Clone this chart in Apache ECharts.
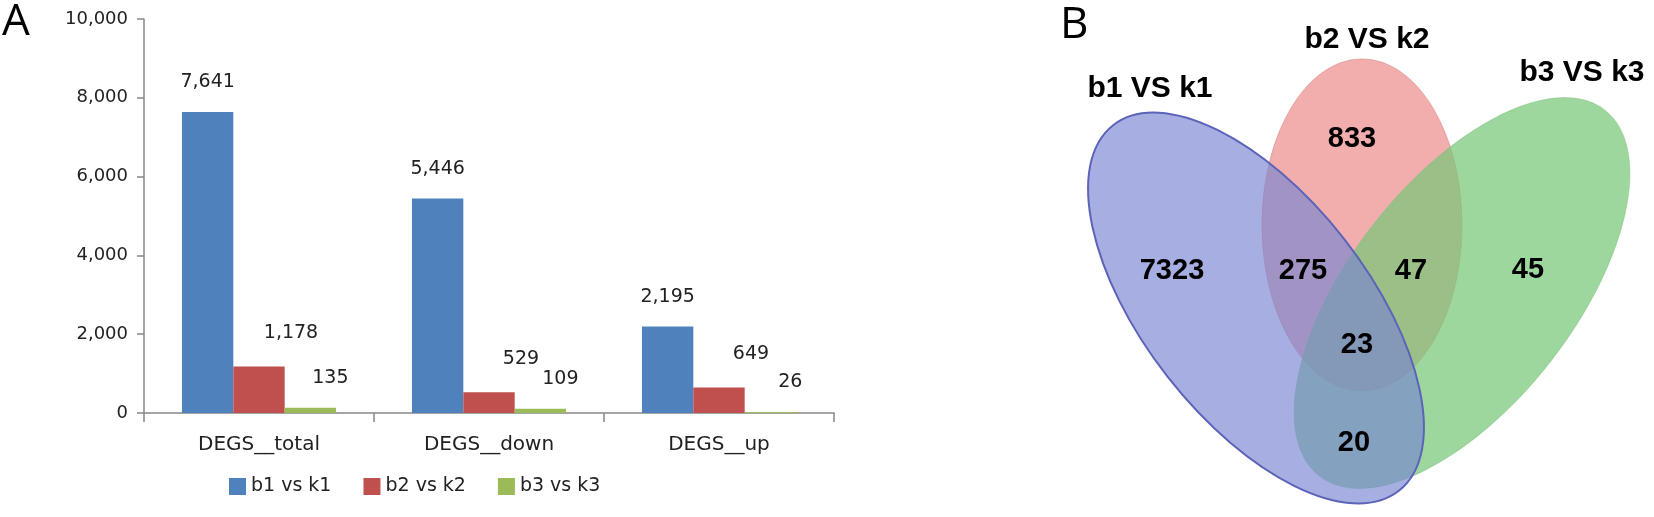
<!DOCTYPE html>
<html>
<head>
<meta charset="utf-8">
<script src="https://cdn.jsdelivr.net/npm/echarts@6/dist/echarts.min.js"></script>
<style>
  html, body { margin: 0; padding: 0; background: #fff; }
  #chart { width: 1654px; height: 517px; }
</style>
</head>
<body>
<div id="chart"></div>
<script>
// panel A: DEG counts
const categories = ['DEGS__total', 'DEGS__down', 'DEGS__up'];
const seriesNames = ['b1 vs k1', 'b2 vs k2', 'b3 vs k3'];
const b1k1 = [7641, 5446, 2195];
const b2k2 = [1178, 529, 649];
const b3k3 = [135, 109, 26];
const yTicks = [0, 2000, 4000, 6000, 8000, 10000];

// panel B: venn
const vennSets = ['b1 VS k1', 'b2 VS k2', 'b3 VS k3'];
const vennRegions = ['b1', 'b2', 'b3', 'b1&b2', 'b2&b3', 'b1&b2&b3', 'b1&b3'];
const vennCounts = [7323, 833, 45, 275, 47, 23, 20];

// venn layout (units of the hidden venn axes)
const setShapes = { // cx, cy, rx, ry, rotation deg
  'b2 VS k2': [322, 225, 100, 166, 0],
  'b3 VS k3': [422, 293, 232, 112, 52],
  'b1 VS k1': [216, 308, 232, 112, -52]
};
const setNamePos = [[110, 89], [327, 40], [542, 73]];
const regionPos = [[132, 271], [312, 139], [488, 270], [263, 271], [371, 271], [317, 345], [314, 443]];
const drawOrder = ['b2 VS k2', 'b3 VS k3', 'b1 VS k1'];
const setStyles = {
  'b2 VS k2': { fill: 'rgba(232,120,118,0.6)', stroke: 'rgba(220,120,120,0.5)', lineWidth: 1 },
  'b3 VS k3': { fill: 'rgba(120,200,120,0.72)', stroke: 'rgba(120,190,120,0.4)', lineWidth: 1 },
  'b1 VS k1': { fill: 'rgba(120,132,210,0.65)', stroke: '#5c63b8', lineWidth: 2 }
};

const barColors = ['#4F81BD', '#C0504D', '#9BBB59'];
const labelOffsets = [[0, -15], [32, -19], [20, -15]];
const textFont = 'DejaVu Sans';
const fmt = v => Number(v).toLocaleString('en-US');

const chart = echarts.init(document.getElementById('chart'));

const barSeries = [b1k1, b2k2, b3k3].map((vals, i) => ({
  name: seriesNames[i],
  type: 'bar',
  xAxisIndex: 0,
  yAxisIndex: 0,
  data: vals,
  barGap: '0%',
  barCategoryGap: '33%',
  itemStyle: { color: barColors[i] },
  label: {
    show: true,
    position: 'top',
    distance: 5,
    offset: labelOffsets[i],
    fontFamily: textFont,
    fontSize: 19,
    color: '#222',
    formatter: p => fmt(p.value)
  }
}));

chart.setOption({
  animation: false,
  backgroundColor: '#fff',
  graphic: [
    { type: 'text', left: 2, top: 0, style: { text: 'A', font: '44px "Open Sans"', fill: '#000' } },
    { type: 'text', left: 1060, top: 3, style: { text: 'B', font: '44px "Open Sans"', fill: '#000' } }
  ],
  legend: {
    data: seriesNames,
    left: 229,
    top: 477,
    padding: 0,
    icon: 'rect',
    itemWidth: 17,
    itemHeight: 17,
    itemGap: 32,
    textStyle: { fontFamily: textFont, fontSize: 19, color: '#222' }
  },
  grid: [
    { left: 144, top: 19, width: 690, height: 394 },
    { left: 1040, top: 0, width: 614, height: 517 }
  ],
  xAxis: [
    {
      type: 'category',
      gridIndex: 0,
      data: categories,
      axisLine: { lineStyle: { color: '#888', width: 1.5 } },
      axisTick: { show: true, length: 9, lineStyle: { color: '#888', width: 1.5 } },
      axisLabel: { margin: 22, fontFamily: textFont, fontSize: 20, color: '#222' }
    },
    { type: 'value', gridIndex: 1, min: 0, max: 614, show: false }
  ],
  yAxis: [
    {
      type: 'value',
      gridIndex: 0,
      min: yTicks[0],
      max: yTicks[yTicks.length - 1],
      interval: yTicks[1] - yTicks[0],
      axisLine: { show: true, lineStyle: { color: '#888', width: 1.5 } },
      axisTick: { show: true, length: 7, lineStyle: { color: '#888', width: 1.5 } },
      splitLine: { show: false },
      axisLabel: { margin: 16, fontFamily: textFont, fontSize: 18, color: '#222', formatter: fmt }
    },
    { type: 'value', gridIndex: 1, min: 0, max: 517, inverse: true, show: false }
  ],
  series: barSeries.concat([
    {
      type: 'custom',
      name: 'venn',
      xAxisIndex: 1,
      yAxisIndex: 1,
      silent: true,
      data: drawOrder.map(n => ({ name: n, value: [setShapes[n][0], setShapes[n][1]] })),
      renderItem: (params, api) => {
        const key = drawOrder[params.dataIndex];
        const s = setShapes[key];
        const c = api.coord([s[0], s[1]]);
        const size = api.size([s[2], s[3]]);
        return {
          type: 'ellipse',
          x: c[0],
          y: c[1],
          rotation: s[4] * Math.PI / 180,
          shape: { cx: 0, cy: 0, rx: Math.abs(size[0]), ry: Math.abs(size[1]) },
          style: setStyles[key]
        };
      }
    },
    {
      type: 'scatter',
      name: 'set names',
      xAxisIndex: 1,
      yAxisIndex: 1,
      silent: true,
      z: 5,
      symbolSize: 0,
      itemStyle: { opacity: 1 },
      data: vennSets.map((n, i) => ({ name: n, value: setNamePos[i] })),
      label: {
        show: true,
        position: 'inside',
        formatter: p => p.name,
        fontFamily: 'Liberation Sans',
        fontWeight: 'bold',
        fontSize: 30,
        color: '#000',
        opacity: 1
      }
    },
    {
      type: 'scatter',
      name: 'region counts',
      xAxisIndex: 1,
      yAxisIndex: 1,
      silent: true,
      z: 5,
      symbolSize: 0,
      itemStyle: { opacity: 1 },
      data: vennCounts.map((v, i) => ({ name: vennRegions[i], value: [regionPos[i][0], regionPos[i][1], v] })),
      label: {
        show: true,
        position: 'inside',
        formatter: p => String(p.value[2]),
        fontFamily: 'Liberation Sans',
        fontWeight: 'bold',
        fontSize: 29,
        color: '#000',
        opacity: 1
      }
    }
  ])
});
</script>
</body>
</html>
